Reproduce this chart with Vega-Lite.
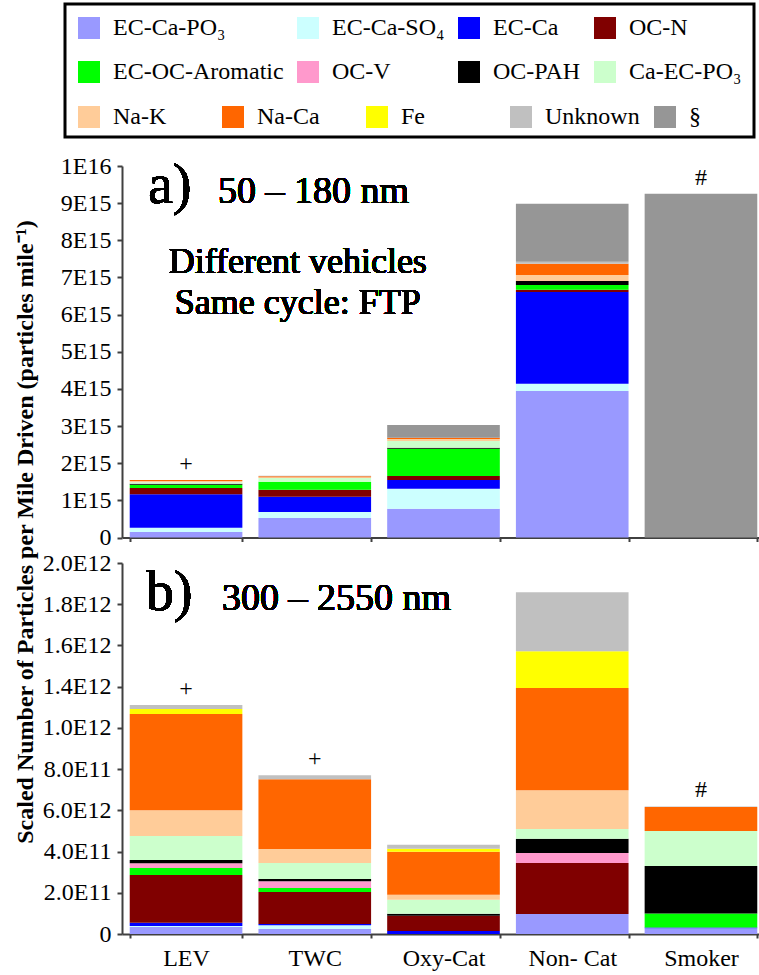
{
  "$schema": "https://vega.github.io/schema/vega-lite/v6.json",
  "background": "white",
  "padding": {"left": 12, "top": 2, "right": 0, "bottom": 6},
  "config": {
    "font": "Liberation Serif, Times New Roman, Times, serif",
    "view": {"stroke": null},
    "axis": {
      "labelFont": "Liberation Serif, Times New Roman, Times, serif",
      "labelFontSize": 24,
      "labelColor": "black",
      "labelOverlap": false,
      "domainColor": "#404040",
      "domainWidth": 2,
      "tickColor": "#404040",
      "tickWidth": 2,
      "grid": false
    },
    "legend": {"strokeWidth": 3},
    "text": {"font": "Liberation Serif, Times New Roman, Times, serif", "color": "black"}
  },
  "datasets": {
    "table": [
      {"panel": "a", "vehicle": "LEV", "category": "EC-Ca-PO₃", "value": 1.48e14},
      {"panel": "a", "vehicle": "LEV", "category": "EC-Ca-SO₄", "value": 1.16e14},
      {"panel": "a", "vehicle": "LEV", "category": "EC-Ca", "value": 8.99e14},
      {"panel": "a", "vehicle": "LEV", "category": "OC-N", "value": 1.69e14},
      {"panel": "a", "vehicle": "LEV", "category": "EC-OC-Aromatic", "value": 8.9e13},
      {"panel": "a", "vehicle": "LEV", "category": "OC-PAH", "value": 2.7e13},
      {"panel": "a", "vehicle": "LEV", "category": "Ca-EC-PO₃", "value": 3.8e13},
      {"panel": "a", "vehicle": "LEV", "category": "Na-K", "value": 3.5e13},
      {"panel": "a", "vehicle": "LEV", "category": "Na-Ca", "value": 2.7e13},

      {"panel": "a", "vehicle": "TWC", "category": "EC-Ca-PO₃", "value": 5.25e14},
      {"panel": "a", "vehicle": "TWC", "category": "EC-Ca-SO₄", "value": 1.62e14},
      {"panel": "a", "vehicle": "TWC", "category": "EC-Ca", "value": 4.12e14},
      {"panel": "a", "vehicle": "TWC", "category": "OC-N", "value": 1.88e14},
      {"panel": "a", "vehicle": "TWC", "category": "EC-OC-Aromatic", "value": 2.15e14},
      {"panel": "a", "vehicle": "TWC", "category": "Ca-EC-PO₃", "value": 1.0e14},
      {"panel": "a", "vehicle": "TWC", "category": "Na-K", "value": 2.0e13},
      {"panel": "a", "vehicle": "TWC", "category": "Na-Ca", "value": 2.7e13},
      {"panel": "a", "vehicle": "TWC", "category": "Unknown", "value": 1.6e13},

      {"panel": "a", "vehicle": "Oxy-Cat", "category": "EC-Ca-PO₃", "value": 7.75e14},
      {"panel": "a", "vehicle": "Oxy-Cat", "category": "EC-Ca-SO₄", "value": 5.38e14},
      {"panel": "a", "vehicle": "Oxy-Cat", "category": "EC-Ca", "value": 2.34e14},
      {"panel": "a", "vehicle": "Oxy-Cat", "category": "OC-N", "value": 1.08e14},
      {"panel": "a", "vehicle": "Oxy-Cat", "category": "EC-OC-Aromatic", "value": 7.35e14},
      {"panel": "a", "vehicle": "Oxy-Cat", "category": "OC-PAH", "value": 2.7e13},
      {"panel": "a", "vehicle": "Oxy-Cat", "category": "Ca-EC-PO₃", "value": 1.8e14},
      {"panel": "a", "vehicle": "Oxy-Cat", "category": "Na-K", "value": 5.4e13},
      {"panel": "a", "vehicle": "Oxy-Cat", "category": "Na-Ca", "value": 3.5e13},
      {"panel": "a", "vehicle": "Oxy-Cat", "category": "§", "value": 3.42e14},

      {"panel": "a", "vehicle": "Non- Cat", "category": "EC-Ca-PO₃", "value": 3.943e15},
      {"panel": "a", "vehicle": "Non- Cat", "category": "EC-Ca-SO₄", "value": 1.97e14},
      {"panel": "a", "vehicle": "Non- Cat", "category": "EC-Ca", "value": 2.468e15},
      {"panel": "a", "vehicle": "Non- Cat", "category": "OC-N", "value": 6.2e13},
      {"panel": "a", "vehicle": "Non- Cat", "category": "EC-OC-Aromatic", "value": 1.27e14},
      {"panel": "a", "vehicle": "Non- Cat", "category": "OC-PAH", "value": 1.08e14},
      {"panel": "a", "vehicle": "Non- Cat", "category": "Na-K", "value": 1.62e14},
      {"panel": "a", "vehicle": "Non- Cat", "category": "Na-Ca", "value": 3.04e14},
      {"panel": "a", "vehicle": "Non- Cat", "category": "Unknown", "value": 5.4e13},
      {"panel": "a", "vehicle": "Non- Cat", "category": "§", "value": 1.561e15},

      {"panel": "a", "vehicle": "Smoker", "category": "§", "value": 9.254e15},

      {"panel": "b", "vehicle": "LEV", "category": "EC-Ca-PO₃", "value": 3.4e10},
      {"panel": "b", "vehicle": "LEV", "category": "EC-Ca-SO₄", "value": 5e9},
      {"panel": "b", "vehicle": "LEV", "category": "EC-Ca", "value": 1.6e10},
      {"panel": "b", "vehicle": "LEV", "category": "OC-N", "value": 2.31e11},
      {"panel": "b", "vehicle": "LEV", "category": "EC-OC-Aromatic", "value": 3.4e10},
      {"panel": "b", "vehicle": "LEV", "category": "OC-V", "value": 2.3e10},
      {"panel": "b", "vehicle": "LEV", "category": "OC-PAH", "value": 1.6e10},
      {"panel": "b", "vehicle": "LEV", "category": "Ca-EC-PO₃", "value": 1.16e11},
      {"panel": "b", "vehicle": "LEV", "category": "Na-K", "value": 1.26e11},
      {"panel": "b", "vehicle": "LEV", "category": "Na-Ca", "value": 5.33e11},
      {"panel": "b", "vehicle": "LEV", "category": "Fe", "value": 4.9e10},
      {"panel": "b", "vehicle": "LEV", "category": "Unknown", "value": 3.9e10},

      {"panel": "b", "vehicle": "TWC", "category": "EC-Ca-PO₃", "value": 2.4e10},
      {"panel": "b", "vehicle": "TWC", "category": "EC-Ca-SO₄", "value": 1.9e10},
      {"panel": "b", "vehicle": "TWC", "category": "EC-Ca", "value": 6e9},
      {"panel": "b", "vehicle": "TWC", "category": "OC-N", "value": 1.55e11},
      {"panel": "b", "vehicle": "TWC", "category": "EC-OC-Aromatic", "value": 1.9e10},
      {"panel": "b", "vehicle": "TWC", "category": "OC-V", "value": 3.3e10},
      {"panel": "b", "vehicle": "TWC", "category": "OC-PAH", "value": 1.1e10},
      {"panel": "b", "vehicle": "TWC", "category": "Ca-EC-PO₃", "value": 7.8e10},
      {"panel": "b", "vehicle": "TWC", "category": "Na-K", "value": 6.8e10},
      {"panel": "b", "vehicle": "TWC", "category": "Na-Ca", "value": 3.38e11},
      {"panel": "b", "vehicle": "TWC", "category": "Unknown", "value": 1.9e10},

      {"panel": "b", "vehicle": "Oxy-Cat", "category": "EC-Ca", "value": 1.5e10},
      {"panel": "b", "vehicle": "Oxy-Cat", "category": "OC-N", "value": 7.3e10},
      {"panel": "b", "vehicle": "Oxy-Cat", "category": "OC-PAH", "value": 1.0e10},
      {"panel": "b", "vehicle": "Oxy-Cat", "category": "Ca-EC-PO₃", "value": 6.8e10},
      {"panel": "b", "vehicle": "Oxy-Cat", "category": "Na-K", "value": 2.4e10},
      {"panel": "b", "vehicle": "Oxy-Cat", "category": "Na-Ca", "value": 2.09e11},
      {"panel": "b", "vehicle": "Oxy-Cat", "category": "Fe", "value": 1.5e10},
      {"panel": "b", "vehicle": "Oxy-Cat", "category": "Unknown", "value": 1.9e10},

      {"panel": "b", "vehicle": "Non- Cat", "category": "EC-Ca-PO₃", "value": 9.7e10},
      {"panel": "b", "vehicle": "Non- Cat", "category": "OC-N", "value": 2.47e11},
      {"panel": "b", "vehicle": "Non- Cat", "category": "OC-V", "value": 4.9e10},
      {"panel": "b", "vehicle": "Non- Cat", "category": "OC-PAH", "value": 6.9e10},
      {"panel": "b", "vehicle": "Non- Cat", "category": "Ca-EC-PO₃", "value": 4.7e10},
      {"panel": "b", "vehicle": "Non- Cat", "category": "Na-K", "value": 1.89e11},
      {"panel": "b", "vehicle": "Non- Cat", "category": "Na-Ca", "value": 6.88e11},
      {"panel": "b", "vehicle": "Non- Cat", "category": "Fe", "value": 1.86e11},
      {"panel": "b", "vehicle": "Non- Cat", "category": "Unknown", "value": 2.86e11},

      {"panel": "b", "vehicle": "Smoker", "category": "EC-Ca-PO₃", "value": 2.8e10},
      {"panel": "b", "vehicle": "Smoker", "category": "EC-Ca", "value": 3e9},
      {"panel": "b", "vehicle": "Smoker", "category": "EC-OC-Aromatic", "value": 6.8e10},
      {"panel": "b", "vehicle": "Smoker", "category": "OC-PAH", "value": 2.31e11},
      {"panel": "b", "vehicle": "Smoker", "category": "Ca-EC-PO₃", "value": 1.70e11},
      {"panel": "b", "vehicle": "Smoker", "category": "Na-Ca", "value": 1.16e11},
      {"panel": "b", "vehicle": "Smoker", "category": "Unknown", "value": 3e9}
    ],
    "notes_a": [
      {"vehicle": "LEV", "note": "+"},
      {"vehicle": "Smoker", "note": "#"}
    ],
    "notes_b": [
      {"vehicle": "LEV", "note": "+"},
      {"vehicle": "TWC", "note": "+"},
      {"vehicle": "Smoker", "note": "#"}
    ]
  },
  "spacing": 25,
  "bounds": "flush",
  "resolve": {"scale": {"fill": "shared", "color": "shared"}},
  "vconcat": [
    {
      "width": 643,
      "height": 371.5,
      "data": {"name": "table"},
      "transform": [{"filter": "datum.panel == 'a'"}],
      "encoding": {
        "x": {
          "field": "vehicle",
          "type": "nominal",
          "sort": null,
          "scale": {"domain": ["LEV", "TWC", "Oxy-Cat", "Non- Cat", "Smoker"], "paddingInner": 0.125, "paddingOuter": 0.06},
          "axis": {"title": null, "labels": false, "tickBand": "extent", "tickSize": 4}
        },
        "y": {
          "type": "quantitative",
          "scale": {"domain": [0, 1e16], "nice": false},
          "axis": {
            "values": [0, 1e15, 2e15, 3e15, 4e15, 5e15, 6e15, 7e15, 8e15, 9e15, 1e16],
            "labelExpr": "datum.value == 0 ? '0' : datum.value > 9.5e15 ? '1E16' : round(datum.value / 1e15) + 'E15'",
            "labelOverlap": false,
            "tickSize": 5,
            "labelPadding": 6,
            "title": "Scaled Number of Particles per Mile Driven (particles mile⁻¹)",
            "titleFont": "Liberation Serif, Times New Roman, Times, serif",
            "titleFontSize": 24,
            "titleFontWeight": "bold",
            "titleColor": "black",
            "titleAngle": 270,
            "titleX": -90,
            "titleY": 365.5,
            "titleAlign": "center",
            "titleBaseline": "alphabetic"
          }
        }
      },
      "layer": [
        {
          "transform": [
            {"stack": "value", "groupby": ["vehicle"], "as": ["y0", "y1"]},
            {"filter": {"field": "category", "oneOf": ["EC-Ca-PO₃", "EC-Ca-SO₄", "EC-Ca", "OC-N", "EC-OC-Aromatic", "OC-V", "OC-PAH", "Ca-EC-PO₃"]}}
          ],
          "mark": {"type": "bar"},
          "encoding": {
            "y": {"field": "y0"},
            "y2": {"field": "y1"},
            "fill": {
              "field": "category",
              "type": "nominal",
              "scale": {
                "domain": ["EC-Ca-PO₃", "EC-Ca-SO₄", "EC-Ca", "OC-N", "EC-OC-Aromatic", "OC-V", "OC-PAH", "Ca-EC-PO₃"],
                "range": ["#9999ff", "#ccffff", "#0000ff", "#800000", "#00ff00", "#ff99cc", "#000000", "#ccffcc"]
              },
              "legend": {
                "orient": "none", "legendX": -57, "legendY": -162, "direction": "horizontal",
                "columns": 4, "gridAlign": "each", "columnPadding": 12, "rowPadding": 20,
                "symbolType": "square", "symbolSize": 484, "symbolStrokeWidth": 0,
                "labelFont": "Liberation Serif, Times New Roman, Times, serif", "labelFontSize": 24, "labelColor": "black", "labelOffset": 12, "labelLimit": 300,
                "strokeColor": "black", "padding": 12,
                "title": " ", "titleOrient": "bottom", "titleFontSize": 32, "titlePadding": 10
              }
            }
          }
        },
        {
          "transform": [
            {"stack": "value", "groupby": ["vehicle"], "as": ["y0", "y1"]},
            {"filter": {"field": "category", "oneOf": ["Na-K", "Na-Ca", "Fe", "Unknown", "§"]}}
          ],
          "mark": {"type": "bar"},
          "encoding": {
            "y": {"field": "y0"},
            "y2": {"field": "y1"},
            "color": {
              "field": "category",
              "type": "nominal",
              "scale": {
                "domain": ["Na-K", "Na-Ca", "Fe", "Unknown", "§"],
                "range": ["#ffcc99", "#ff6600", "#ffff00", "#c0c0c0", "#969696"]
              },
              "legend": {
                "orient": "none", "legendX": -45, "legendY": -61, "direction": "horizontal",
                "columns": 5, "gridAlign": "all", "columnPadding": 13,
                "symbolType": "square", "symbolSize": 484, "symbolStrokeWidth": 0,
                "labelFont": "Liberation Serif, Times New Roman, Times, serif", "labelFontSize": 24, "labelColor": "black", "labelOffset": 12, "labelLimit": 300,
                "title": null, "padding": 0
              }
            }
          }
        },
        {
          "transform": [
            {"aggregate": [{"op": "sum", "field": "value", "as": "total"}], "groupby": ["vehicle"]},
            {"lookup": "vehicle", "from": {"data": {"name": "notes_a"}, "key": "vehicle", "fields": ["note"]}},
            {"filter": "isValid(datum.note)"}
          ],
          "mark": {"type": "text", "fontSize": 24, "baseline": "bottom", "dy": -4},
          "encoding": {
            "y": {"field": "total"},
            "text": {"field": "note"}
          }
        },
        {
          "mark": {"type": "text", "text": "a)", "fontSize": 56, "align": "left", "baseline": "alphabetic", "dx": -38},
          "encoding": {"x": {"datum": "LEV"}, "y": {"datum": 9.01e15}}
        },
        {
          "mark": {"type": "text", "text": "50 – 180 nm", "fontSize": 38, "align": "left", "baseline": "alphabetic", "dx": 32},
          "encoding": {"x": {"datum": "LEV"}, "y": {"datum": 9.01e15}}
        },
        {
          "mark": {"type": "text", "text": "Different vehicles", "fontSize": 36, "align": "center", "baseline": "alphabetic", "dx": -17},
          "encoding": {"x": {"datum": "TWC"}, "y": {"datum": 7.12e15}}
        },
        {
          "mark": {"type": "text", "text": "Same cycle: FTP", "fontSize": 36, "align": "center", "baseline": "alphabetic", "dx": -17},
          "encoding": {"x": {"datum": "TWC"}, "y": {"datum": 6.01e15}}
        }
      ]
    },
    {
      "width": 643,
      "height": 371,
      "data": {"name": "table"},
      "transform": [{"filter": "datum.panel == 'b'"}],
      "encoding": {
        "x": {
          "field": "vehicle",
          "type": "nominal",
          "sort": null,
          "scale": {"domain": ["LEV", "TWC", "Oxy-Cat", "Non- Cat", "Smoker"], "paddingInner": 0.125, "paddingOuter": 0.06},
          "axis": {"title": null, "labelAngle": 0, "labelPadding": 8, "tickBand": "extent", "tickSize": 4}
        },
        "y": {
          "type": "quantitative",
          "scale": {"domain": [0, 1e12, 1.4e12, 2e12], "range": [371, 164.89, 123.67, 0], "nice": false},
          "axis": {
            "values": [0, 2e11, 4e11, 6e11, 8e11, 1e12, 1.4e12, 1.6e12, 1.8e12, 2e12],
            "labelExpr": "datum.value == 0 ? '0' : (datum.value > 5.9e11 && datum.value < 6.1e11) ? '6.0E12' : datum.value < 9.9e11 ? format(datum.value / 1e11, '.1f') + 'E11' : format(datum.value / 1e12, '.1f') + 'E12'",
            "labelOverlap": false,
            "tickSize": 5,
            "labelPadding": 6,
            "title": null
          }
        }
      },
      "layer": [
        {
          "transform": [
            {"stack": "value", "groupby": ["vehicle"], "as": ["y0", "y1"]},
            {"filter": {"field": "category", "oneOf": ["EC-Ca-PO₃", "EC-Ca-SO₄", "EC-Ca", "OC-N", "EC-OC-Aromatic", "OC-V", "OC-PAH", "Ca-EC-PO₃"]}}
          ],
          "mark": {"type": "bar"},
          "encoding": {
            "y": {"field": "y0"},
            "y2": {"field": "y1"},
            "fill": {
              "field": "category",
              "type": "nominal",
              "scale": {
                "domain": ["EC-Ca-PO₃", "EC-Ca-SO₄", "EC-Ca", "OC-N", "EC-OC-Aromatic", "OC-V", "OC-PAH", "Ca-EC-PO₃"],
                "range": ["#9999ff", "#ccffff", "#0000ff", "#800000", "#00ff00", "#ff99cc", "#000000", "#ccffcc"]
              },
              "legend": {
                "orient": "none", "legendX": -57, "legendY": -162, "direction": "horizontal",
                "columns": 4, "gridAlign": "each", "columnPadding": 12, "rowPadding": 20,
                "symbolType": "square", "symbolSize": 484, "symbolStrokeWidth": 0,
                "labelFont": "Liberation Serif, Times New Roman, Times, serif", "labelFontSize": 24, "labelColor": "black", "labelOffset": 12, "labelLimit": 300,
                "strokeColor": "black", "padding": 12,
                "title": " ", "titleOrient": "bottom", "titleFontSize": 32, "titlePadding": 10
              }
            }
          }
        },
        {
          "transform": [
            {"stack": "value", "groupby": ["vehicle"], "as": ["y0", "y1"]},
            {"filter": {"field": "category", "oneOf": ["Na-K", "Na-Ca", "Fe", "Unknown", "§"]}}
          ],
          "mark": {"type": "bar"},
          "encoding": {
            "y": {"field": "y0"},
            "y2": {"field": "y1"},
            "color": {
              "field": "category",
              "type": "nominal",
              "scale": {
                "domain": ["Na-K", "Na-Ca", "Fe", "Unknown", "§"],
                "range": ["#ffcc99", "#ff6600", "#ffff00", "#c0c0c0", "#969696"]
              },
              "legend": {
                "orient": "none", "legendX": -45, "legendY": -61, "direction": "horizontal",
                "columns": 5, "gridAlign": "all", "columnPadding": 13,
                "symbolType": "square", "symbolSize": 484, "symbolStrokeWidth": 0,
                "labelFont": "Liberation Serif, Times New Roman, Times, serif", "labelFontSize": 24, "labelColor": "black", "labelOffset": 12, "labelLimit": 300,
                "title": null, "padding": 0
              }
            }
          }
        },
        {
          "transform": [
            {"aggregate": [{"op": "sum", "field": "value", "as": "total"}], "groupby": ["vehicle"]},
            {"lookup": "vehicle", "from": {"data": {"name": "notes_b"}, "key": "vehicle", "fields": ["note"]}},
            {"filter": "isValid(datum.note)"}
          ],
          "mark": {"type": "text", "fontSize": 24, "baseline": "bottom", "dy": -4},
          "encoding": {
            "y": {"field": "total"},
            "text": {"field": "note"}
          }
        },
        {
          "mark": {"type": "text", "text": "b)", "fontSize": 56, "align": "left", "baseline": "alphabetic", "dx": -40},
          "encoding": {"x": {"datum": "LEV"}, "y": {"datum": 1.772e12}}
        },
        {
          "mark": {"type": "text", "text": "300 – 2550 nm", "fontSize": 38, "align": "left", "baseline": "alphabetic", "dx": 36},
          "encoding": {"x": {"datum": "LEV"}, "y": {"datum": 1.772e12}}
        }
      ]
    }
  ]
}
